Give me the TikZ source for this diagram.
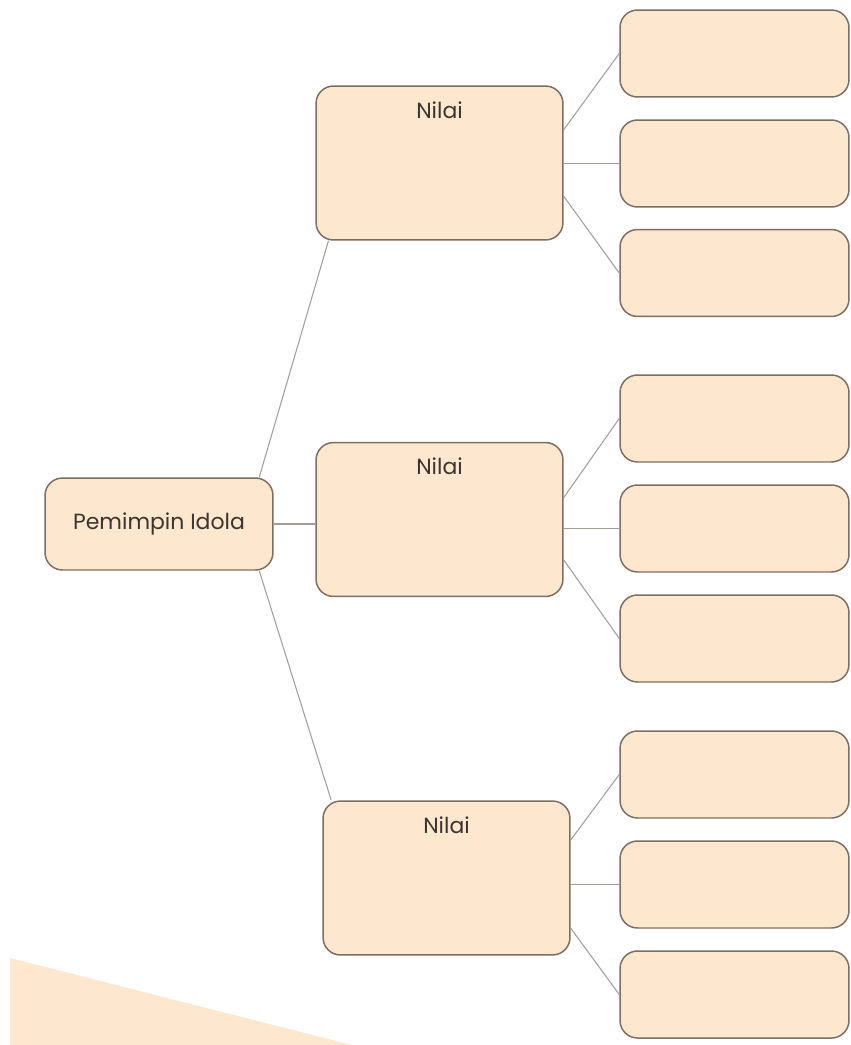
\documentclass[tikz,border=0pt]{standalone}
\usepackage{fontspec}
\setmainfont{Poppins}
\usepackage{tikz}
\usetikzlibrary{%
  positioning,% wg. " of "
  calc%
}
\definecolor{peach}{HTML}{FDE8CF}
\definecolor{boxline}{HTML}{7D6E63}
\definecolor{linkgray}{HTML}{A39D98}
\definecolor{inkgray}{HTML}{3A3530}

\begin{document}
\begin{tikzpicture}[
  x=0.02cm, y=-0.02cm, font=\fontsize{12.5}{15}\selectfont, text=inkgray,
  box/.style={rectangle, rounded corners=0.35cm, draw=boxline, fill=peach, line width=0.85pt, inner sep=0pt},
  nilaibox/.style={box, minimum width=4.94cm, minimum height=3.08cm,
    label={[anchor=north, yshift=-0.32cm, inner sep=0pt]north:Nilai}},
  leaf/.style={box, minimum width=4.58cm, minimum height=1.74cm},
  link/.style={draw=linkgray, line width=0.6pt}
]
\useasboundingbox (0,0) rectangle (851,1045);

% corner shape
\fill[peach] (10,958) -- (352,1045) -- (10,1045) -- cycle;

\node[box, minimum width=4.56cm, minimum height=1.84cm] (root) at (159,524) {Pemimpin Idola};

\node[nilaibox] (n1) at (439.5,163) {};
  \node[leaf] (n1-1) at (734.5,53.5) {};
  \node[leaf] (n1-2) at (734.5,163.5) {};
  \node[leaf] (n1-3) at (734.5,273) {};
\node[nilaibox] (n2) at (439.5,519.5) {};
  \node[leaf] (n2-1) at (734.5,418.5) {};
  \node[leaf] (n2-2) at (734.5,528.5) {};
  \node[leaf] (n2-3) at (734.5,638.5) {};
\node[nilaibox] (n3) at (446.5,878) {};
  \node[leaf] (n3-1) at (734.5,774.5) {};
  \node[leaf] (n3-2) at (734.5,884.5) {};
  \node[leaf] (n3-3) at (734.5,994.5) {};

\draw[link] (root.25) -- (n1.215);
  \draw[link] (n1.15) -- (n1-1.west);
  \draw[link] (n1-2.west -| n1.east) -- (n1-2.west);
  \draw[link] (n1.-15) -- (n1-3.west);
\draw[link] (root.east) -- (root.east -| n2.west);
  \draw[link] (n2.10) -- (n2-1.west);
  \draw[link] (n2-2.west -| n2.east) -- (n2-2.west);
  \draw[link] (n2.-18) -- (n2-3.west);
\draw[link] (root.-25) -- (n3.146.5);
  \draw[link] (n3.17) -- (n3-1.west);
  \draw[link] (n3-2.west -| n3.east) -- (n3-2.west);
  \draw[link] (n3.-22) -- (n3-3.west);
\end{tikzpicture}
\end{document}
